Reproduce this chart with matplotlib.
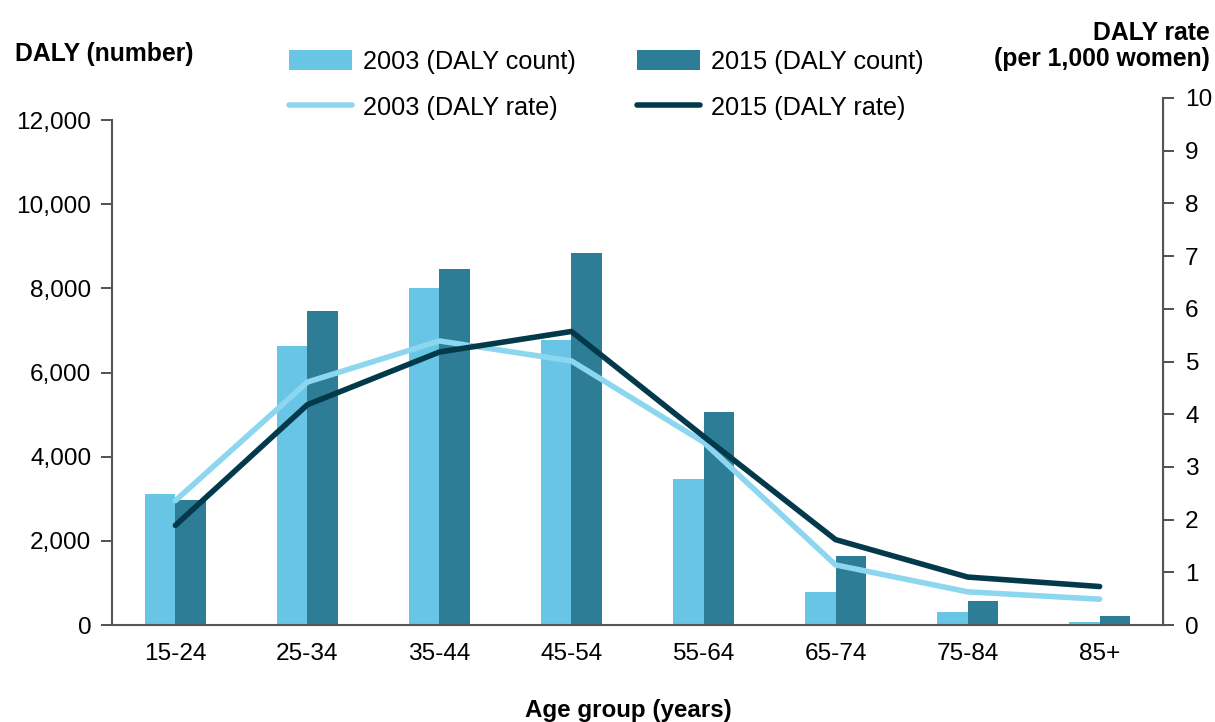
import matplotlib.pyplot as plt
import numpy as np

plt.rcParams['font.family'] = ['Liberation Sans', 'DejaVu Sans']

# data
age_groups = ['15-24', '25-34', '35-44', '45-54', '55-64', '65-74', '75-84', '85+']
count_2003 = [3120, 6630, 8010, 6780, 3470, 780, 310, 70]
count_2015 = [2960, 7460, 8460, 8840, 5060, 1640, 560, 210]
rate_2003 = [2.36, 4.61, 5.39, 5.01, 3.47, 1.14, 0.63, 0.49]
rate_2015 = [1.89, 4.18, 5.18, 5.57, 3.58, 1.62, 0.91, 0.73]

c_light_bar = '#68c5e5'
c_dark_bar = '#2c7d95'
c_light_line = '#8dd6f0'
c_dark_line = '#033a4b'

W, H = 1215, 722
fig = plt.figure(figsize=(W / 100, H / 100), dpi=100)
ax = fig.add_axes([112 / W, 1 - 625 / H, (1163 - 112) / W, (625 - 98) / H])
ax2 = ax.twinx()

x = np.arange(len(age_groups))
bw = 0.23
b1 = ax.bar(x - bw / 2, count_2003, bw, color=c_light_bar, label='2003 (DALY count)', zorder=2)
b2 = ax.bar(x + bw / 2, count_2015, bw, color=c_dark_bar, label='2015 (DALY count)', zorder=2)
l1, = ax2.plot(x, rate_2003, color=c_light_line, lw=4, solid_capstyle='round', label='2003 (DALY rate)')
l2, = ax2.plot(x, rate_2015, color=c_dark_line, lw=4, solid_capstyle='round', label='2015 (DALY rate)')

ax.set_xlim(-0.48, 7.48)
ax.set_ylim(0, 12000 * 527 / 505)
ax2.set_ylim(0, 10)

ax.set_yticks(np.arange(0, 12001, 2000))
ax.set_yticklabels([f'{v:,}' for v in range(0, 12001, 2000)])
ax2.set_yticks(range(0, 11))
ax.set_xticks(x)
ax.set_xticklabels(age_groups)

for a in (ax, ax2):
    a.spines['top'].set_visible(False)
    a.tick_params(labelsize=17.6, color='#333333', width=1.2)
ax.spines['left'].set_bounds(0, 12000)
ax2.spines['right'].set_bounds(0, 10)
for s in ('left', 'bottom'):
    ax.spines[s].set_color('#555555')
    ax.spines[s].set_linewidth(1.5)
ax2.spines['right'].set_color('#555555')
ax2.spines['right'].set_linewidth(1.5)
ax2.spines['left'].set_visible(False)
ax2.spines['bottom'].set_visible(False)
ax.tick_params(axis='y', length=8, pad=7)
ax2.tick_params(axis='y', length=8, pad=8)
ax.tick_params(axis='x', length=0, pad=13)

fig.text(15 / W, 1 - 54 / H, 'DALY (number)', fontsize=17.8, fontweight='bold', ha='left', va='center')
fig.text(1210 / W, 1 - 46 / H, 'DALY rate\n(per 1,000 women)', fontsize=17.8, fontweight='bold',
         ha='right', va='center', multialignment='right', linespacing=1.15)
fig.text(628 / W, 1 - 710 / H, 'Age group (years)', fontsize=17.4, fontweight='bold', ha='center', va='center')

fig.legend(handles=[b1, l1, b2, l2], loc='center left', bbox_to_anchor=(289 / W, 1 - 85 / H),
           ncol=2, frameon=False, fontsize=18.2, handlelength=2.5, handleheight=0.85,
           handletextpad=0.44, columnspacing=2.4, labelspacing=0.86, borderaxespad=0, borderpad=0)

fig.savefig('out.png', dpi=100)
